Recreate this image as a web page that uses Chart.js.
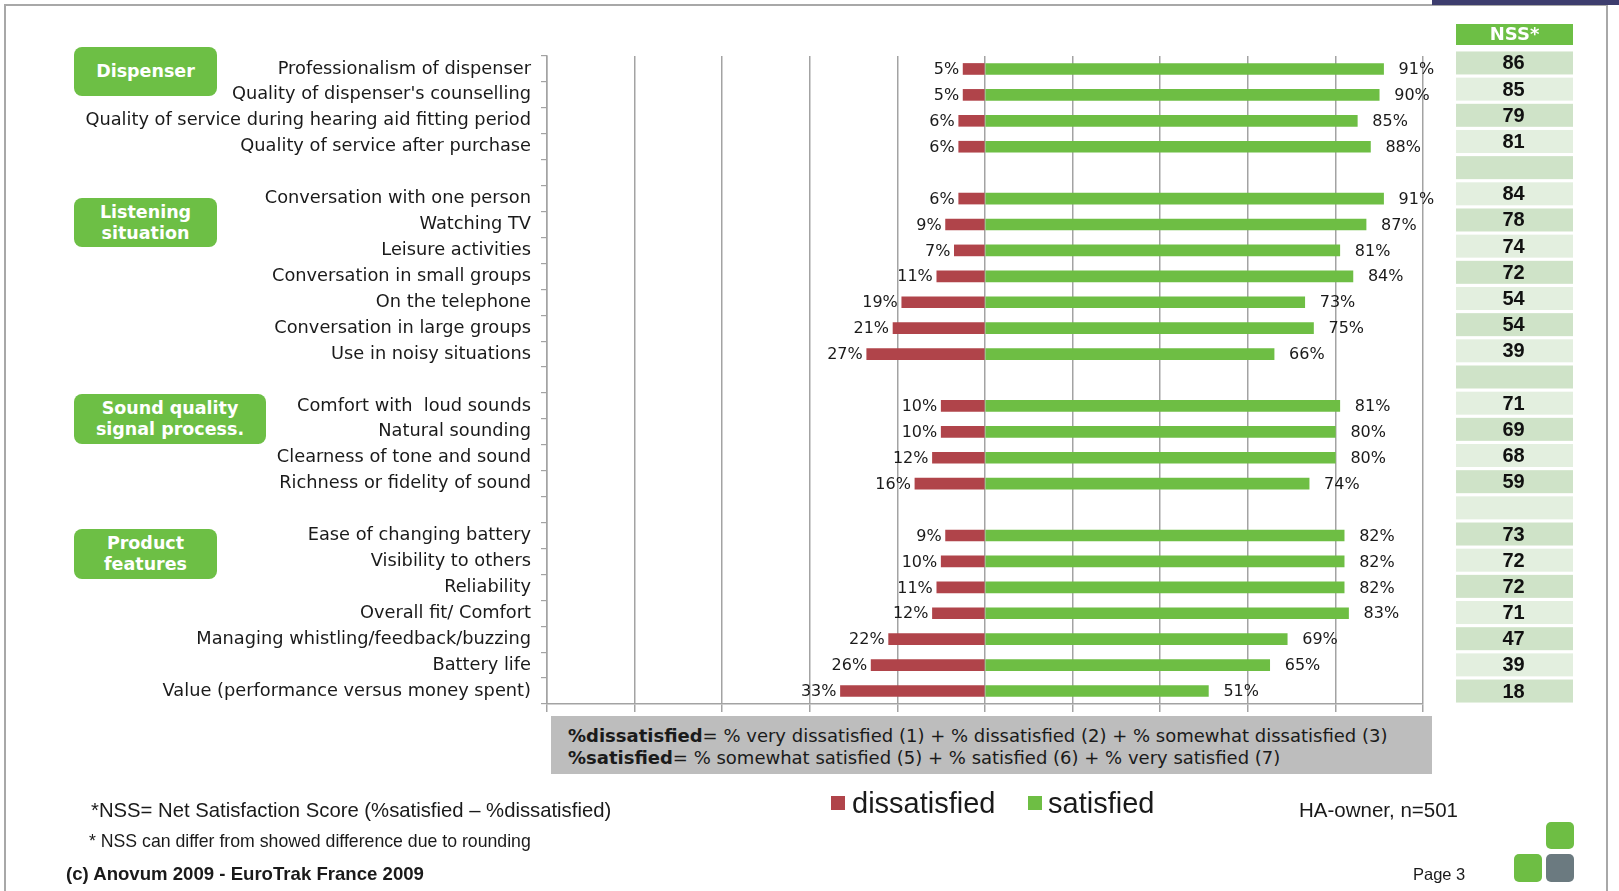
<!DOCTYPE html>
<html>
<head>
<meta charset="utf-8">
<script src="https://cdn.jsdelivr.net/npm/chart.js@4"></script>
<style>
  body { margin: 0; background: #fff; }
  #wrap { position: relative; width: 1619px; height: 891px; overflow: hidden; }
  #chart { position: absolute; left: 0; top: 0; }
  .abs { position: absolute; white-space: nowrap; line-height: 1; transform: translateY(-50%); color: #1a1a1a; }
  .group { position: absolute; background: #6dbf45; border-radius: 8px; color: #fff;
           font: bold 17.5px "DejaVu Sans", Verdana, sans-serif; display: flex; align-items: center;
           justify-content: center; text-align: center; line-height: 21px; }
  .sq { position: absolute; }
</style>
</head>
<body>
<div id="wrap">
  <canvas id="chart" width="1619" height="891"></canvas>

  <!-- page frame -->
  <div style="position:absolute;left:4px;top:4px;width:1600px;height:900px;border:2px solid #a8a8a8;"></div>
  <div style="position:absolute;left:1432px;top:0;width:187px;height:5px;background:#3d3d6e;"></div>

  <!-- group boxes -->
  <div class="group" style="left:74px;top:47px;width:143px;height:49px;">Dispenser</div>
  <div class="group" style="left:74px;top:198px;width:143px;height:49px;">Listening<br>situation</div>
  <div class="group" style="left:74px;top:394px;width:192px;height:50px;">Sound quality<br>signal process.</div>
  <div class="group" style="left:74px;top:529px;width:143px;height:50px;">Product<br>features</div>

  <!-- definition box -->
  <div style="position:absolute;left:551px;top:716px;width:881px;height:58px;background:#bdbdbd;"></div>
  <div class="abs" style="left:568px;top:735px;font:18px 'DejaVu Sans',sans-serif;"><b>%dissatisfied</b>= % very dissatisfied (1) + % dissatisfied (2) + % somewhat dissatisfied (3)</div>
  <div class="abs" style="left:568px;top:757px;font:18px 'DejaVu Sans',sans-serif;"><b>%satisfied</b>= % somewhat satisfied (5) + % satisfied (6) + % very satisfied (7)</div>

  <!-- legend -->
  <div class="sq" style="left:831px;top:796px;width:14px;height:14px;background:#b0444a;"></div>
  <div class="abs" style="left:852px;top:803px;font:29px 'Liberation Sans',Arial,sans-serif;">dissatisfied</div>
  <div class="sq" style="left:1028px;top:796px;width:14px;height:14px;background:#6ebe44;"></div>
  <div class="abs" style="left:1048px;top:803px;font:29px 'Liberation Sans',Arial,sans-serif;">satisfied</div>

  <!-- footer -->
  <div class="abs" style="left:91px;top:810px;font:20.3px 'Liberation Sans',Arial,sans-serif;">*NSS= Net Satisfaction Score (%satisfied – %dissatisfied)</div>
  <div class="abs" style="left:89px;top:841px;font:17.7px 'Liberation Sans Narrow','Liberation Sans',sans-serif;">* NSS can differ from showed difference due to rounding</div>
  <div class="abs" style="left:66px;top:874px;font:bold 18.6px 'Liberation Sans',Arial,sans-serif;">(c) Anovum 2009 - EuroTrak France 2009</div>
  <div class="abs" style="left:1299px;top:810px;font:20.5px 'Liberation Sans',Arial,sans-serif;">HA-owner, n=501</div>
  <div class="abs" style="left:1413px;top:874px;font:16.5px 'Liberation Sans',Arial,sans-serif;">Page 3</div>

  <!-- logo -->
  <div class="sq" style="left:1546px;top:822px;width:28px;height:27px;background:#6ebe44;border-radius:5px;"></div>
  <div class="sq" style="left:1514px;top:854px;width:28px;height:28px;background:#6ebe44;border-radius:5px;"></div>
  <div class="sq" style="left:1546px;top:854px;width:28px;height:28px;background:#6b7a80;border-radius:5px;"></div>
</div>

<script>
// rows, blank strings are the spacer rows between groups
const categories = [
  'Professionalism of dispenser',
  "Quality of dispenser's counselling",
  'Quality of service during hearing aid fitting period',
  'Quality of service after purchase',
  '',
  'Conversation with one person',
  'Watching TV',
  'Leisure activities',
  'Conversation in small groups',
  'On the telephone',
  'Conversation in large groups',
  'Use in noisy situations',
  '',
  'Comfort with  loud sounds',
  'Natural sounding',
  'Clearness of tone and sound',
  'Richness or fidelity of sound',
  '',
  'Ease of changing battery',
  'Visibility to others',
  'Reliability',
  'Overall fit/ Comfort',
  'Managing whistling/feedback/buzzing',
  'Battery life',
  'Value (performance versus money spent)'
];

const dissatisfied = [5, 5, 6, 6, null, 6, 9, 7, 11, 19, 21, 27, null, 10, 10, 12, 16, null, 9, 10, 11, 12, 22, 26, 33];
const satisfied = [91, 90, 85, 88, null, 91, 87, 81, 84, 73, 75, 66, null, 81, 80, 80, 74, null, 82, 82, 82, 83, 69, 65, 51];
const nss = [86, 85, 79, 81, null, 84, 78, 74, 72, 54, 54, 39, null, 71, 69, 68, 59, null, 73, 72, 72, 71, 47, 39, 18];

const xTicks = { min: -100, max: 100, step: 20 };

const RED = '#b0444a';
const GREEN = '#6ebe44';
const GRID = '#a3a3a3';

// percentage labels at the bar ends
const barLabels = {
  id: 'barLabels',
  afterDatasetsDraw(chart) {
    const ctx = chart.ctx;
    ctx.save();
    ctx.font = '16px "DejaVu Sans", Verdana, sans-serif';
    ctx.fillStyle = '#1a1a1a';
    ctx.textBaseline = 'middle';
    chart.data.datasets.forEach((ds, di) => {
      const meta = chart.getDatasetMeta(di);
      meta.data.forEach((bar, i) => {
        const v = ds.data[i];
        if (v === null) return;
        if (v < 0) {
          ctx.textAlign = 'right';
          ctx.fillText(Math.abs(v) + '%', bar.x - 4, bar.y + 1);
        } else {
          ctx.textAlign = 'left';
          ctx.fillText(v + '%', bar.x + 15, bar.y + 1);
        }
      });
    });
    ctx.restore();
  }
};

// NSS column on the right, rows follow the y scale
const nssColumn = {
  id: 'nssColumn',
  afterDraw(chart) {
    const ctx = chart.ctx;
    const y = chart.scales.y;
    const left = 1456, width = 117;
    ctx.save();
    ctx.fillStyle = '#6dbf45';
    ctx.fillRect(left, 24, width, 21);
    ctx.fillStyle = '#fff';
    ctx.font = 'bold 18px "DejaVu Sans", Verdana, sans-serif';
    ctx.textAlign = 'center';
    ctx.textBaseline = 'middle';
    ctx.fillText('NSS*', left + width / 2, 35);

    ctx.font = 'bold 20px "Liberation Sans", Arial, sans-serif';
    const n = categories.length;
    categories.forEach((c, i) => {
      const cy = y.getPixelForValue(i) - (n - 1 - i) * 0.25;
      ctx.fillStyle = i % 2 === 0 ? '#cfe3c8' : '#e3efdf';
      ctx.fillRect(left, cy - 11.5, width, 23);
      if (nss[i] !== null) {
        ctx.fillStyle = '#111';
        ctx.fillText(String(nss[i]), left + width / 2 - 1, cy + 1);
      }
    });
    ctx.restore();
  }
};

new Chart(document.getElementById('chart'), {
  type: 'bar',
  data: {
    labels: categories,
    datasets: [
      {
        label: 'dissatisfied',
        data: dissatisfied.map(v => v === null ? null : -v),
        backgroundColor: RED,
        barThickness: 11
      },
      {
        label: 'satisfied',
        data: satisfied,
        backgroundColor: GREEN,
        barThickness: 11
      }
    ]
  },
  options: {
    indexAxis: 'y',
    responsive: false,
    animation: false,
    devicePixelRatio: 1,
    layout: { padding: { left: 0, right: 196, top: 56, bottom: 179 } },
    plugins: {
      legend: { display: false },
      tooltip: { enabled: false }
    },
    scales: {
      x: {
        stacked: true,
        min: xTicks.min,
        max: xTicks.max,
        ticks: { display: false, stepSize: xTicks.step },
        grid: { color: GRID, lineWidth: 1.5, tickLength: 8 },
        border: { color: GRID, width: 1.5 }
      },
      y: {
        stacked: true,
        grid: { drawOnChartArea: false, color: GRID, tickLength: 6, lineWidth: 1.2 },
        border: { color: GRID, width: 1.5 },
        ticks: {
          autoSkip: false,
          padding: 10,
          color: '#1a1a1a',
          font: { family: '"DejaVu Sans", Verdana, sans-serif', size: 17.8 }
        },
        afterFit(scale) { scale.width = 547; }
      }
    }
  },
  plugins: [barLabels, nssColumn]
});
</script>
</body>
</html>
